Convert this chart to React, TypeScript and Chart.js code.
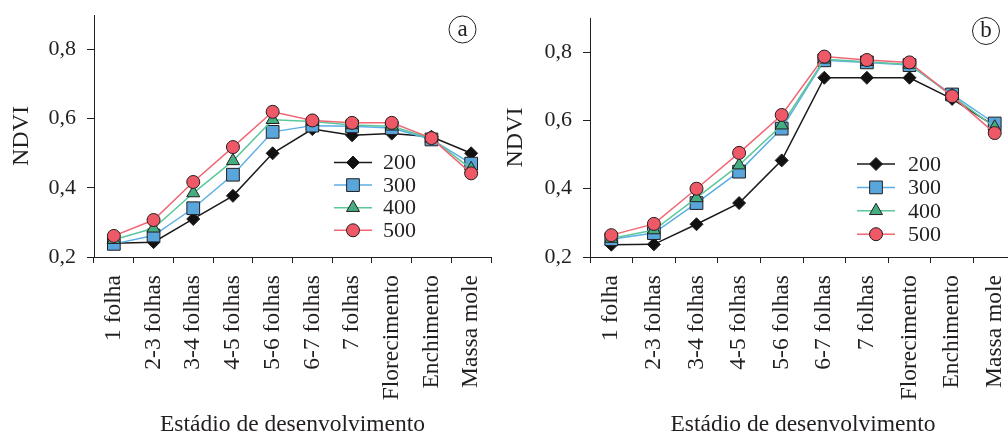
import React, { useEffect, useRef } from 'react';
import { Chart, registerables } from 'chart.js';

Chart.register(...registerables);

const stages = ['1 folha', '2-3 folhas', '3-4 folhas', '4-5 folhas', '5-6 folhas', '6-7 folhas', '7 folhas', 'Florecimento', 'Enchimento', 'Massa mole'];
const doses = ['200', '300', '400', '500'];
const yTicks = [0.2, 0.4, 0.6, 0.8];

const a200 = [0.240, 0.243, 0.310, 0.377, 0.500, 0.570, 0.552, 0.557, 0.548, 0.500];
const a300 = [0.238, 0.262, 0.341, 0.438, 0.562, 0.580, 0.578, 0.573, 0.540, 0.470];
const a400 = [0.250, 0.283, 0.385, 0.478, 0.597, 0.592, 0.582, 0.578, 0.543, 0.455];
const a500 = [0.261, 0.307, 0.417, 0.518, 0.620, 0.595, 0.588, 0.588, 0.544, 0.442];

const b200 = [0.236, 0.237, 0.296, 0.358, 0.483, 0.725, 0.725, 0.725, 0.663, 0.583];
const b300 = [0.252, 0.270, 0.358, 0.450, 0.576, 0.776, 0.770, 0.762, 0.676, 0.591];
const b400 = [0.254, 0.279, 0.373, 0.469, 0.586, 0.779, 0.772, 0.764, 0.672, 0.580];
const b500 = [0.264, 0.297, 0.400, 0.505, 0.616, 0.787, 0.777, 0.770, 0.671, 0.563];

const FONT = "'Liberation Serif', 'Times New Roman', serif";
const INK = '#231f20';

const seriesStyles = [
  { line: '#1a1a1a', fill: '#111111', style: 'rectRot', radius: 6.5 },
  { line: '#5aaee6', fill: '#58a6dc', style: 'rect', radius: 9 },
  { line: '#5cc79c', fill: '#45ad80', style: 'triangle', radius: 7.5 },
  { line: '#f06673', fill: '#ef5866', style: 'circle', radius: 6.5 },
];

function drawMarker(ctx: CanvasRenderingContext2D, style: string, x: number, y: number, r: number) {
  ctx.beginPath();
  if (style === 'rectRot') {
    ctx.moveTo(x, y - r);
    ctx.lineTo(x + r, y);
    ctx.lineTo(x, y + r);
    ctx.lineTo(x - r, y);
    ctx.closePath();
  } else if (style === 'rect') {
    const s = Math.SQRT1_2 * r;
    ctx.rect(x - s, y - s, 2 * s, 2 * s);
  } else if (style === 'triangle') {
    const c = Math.cos(Math.PI / 6) * r;
    ctx.moveTo(x, y - r);
    ctx.lineTo(x + c, y + r / 2);
    ctx.lineTo(x - c, y + r / 2);
    ctx.closePath();
  } else {
    ctx.arc(x, y, r, 0, Math.PI * 2);
  }
  ctx.fill();
  ctx.stroke();
}

const decorPlugin = {
  id: 'panelDecor',
  afterDraw(chart: any, _args: any, opts: any) {
    const ctx: CanvasRenderingContext2D = chart.ctx;
    ctx.save();
    doses.forEach((label, i) => {
      const st = seriesStyles[i];
      const y = opts.legendY + i * opts.rowGap;
      ctx.strokeStyle = st.line;
      ctx.lineWidth = 1.5;
      ctx.beginPath();
      ctx.moveTo(opts.legendX, y);
      ctx.lineTo(opts.legendX + opts.lineLen, y);
      ctx.stroke();
      ctx.fillStyle = st.fill;
      ctx.strokeStyle = INK;
      ctx.lineWidth = 1;
      drawMarker(ctx, st.style, opts.legendX + opts.lineLen / 2, y, st.radius);
      ctx.fillStyle = INK;
      ctx.font = `22px ${FONT}`;
      ctx.textAlign = 'left';
      ctx.textBaseline = 'middle';
      ctx.fillText(label, opts.textX, y + 1);
    });
    ctx.strokeStyle = INK;
    ctx.lineWidth = 1;
    ctx.beginPath();
    ctx.arc(opts.letterX, opts.letterY, 13.5, 0, Math.PI * 2);
    ctx.stroke();
    ctx.fillStyle = INK;
    ctx.font = `23px ${FONT}`;
    ctx.textAlign = 'center';
    ctx.textBaseline = 'middle';
    ctx.fillText(opts.letter, opts.letterX, opts.letterY);
    ctx.restore();
  },
};

function makeConfig(series: number[][], p: any) {
  return {
    type: 'line',
    data: {
      labels: stages,
      datasets: series.map((d, i) => ({
        label: doses[i],
        data: d,
        borderColor: seriesStyles[i].line,
        borderWidth: 1.5,
        backgroundColor: seriesStyles[i].fill,
        pointBackgroundColor: seriesStyles[i].fill,
        pointBorderColor: INK,
        pointBorderWidth: 1,
        pointStyle: seriesStyles[i].style,
        pointRadius: seriesStyles[i].radius,
        tension: 0,
        order: 4 - i,
        clip: false,
      })),
    },
    options: {
      responsive: false,
      animation: false,
      events: [],
      layout: { autoPadding: false, padding: { top: p.top, right: p.right, left: 0, bottom: 0 } },
      plugins: {
        legend: { display: false },
        tooltip: { enabled: false },
        panelDecor: p.decor,
      },
      scales: {
        x: {
          type: 'category',
          offset: true,
          grid: { display: true, drawOnChartArea: false, offset: true, tickLength: 6, color: INK, lineWidth: 1 },
          border: { display: true, color: INK, width: 1 },
          ticks: { autoSkip: false, maxRotation: 90, minRotation: 90, padding: 12, color: INK, font: { family: FONT, size: 23.5 } },
          title: { display: true, text: 'Estádio de desenvolvimento', color: INK, font: { family: FONT, size: 23.5 }, padding: { top: 0, bottom: 0 } },
          afterFit: (s: any) => {
            s.height = p.xHeight;
            s.paddingLeft = 0;
            s.paddingRight = 0;
          },
        },
        y: {
          type: 'linear',
          min: 0.2,
          max: 0.9,
          grid: { display: true, drawOnChartArea: false, tickLength: 7, color: INK, lineWidth: 1 },
          border: { display: true, color: INK, width: 1 },
          afterBuildTicks: (axis: any) => { axis.ticks = yTicks.map((v) => ({ value: v })); },
          ticks: {
            includeBounds: false,
            padding: 11,
            color: INK,
            font: { family: FONT, size: 22 },
            callback: (v: any) => Number(v).toFixed(1).replace('.', ','),
          },
          title: { display: true, text: 'NDVI', color: INK, font: { family: FONT, size: 24, lineHeight: 1.2 }, padding: { top: 7, bottom: 0 } },
          afterFit: (s: any) => {
            s.width = p.yWidth;
            s.paddingTop = 0;
            s.paddingBottom = 0;
          },
        },
      },
    },
    plugins: [decorPlugin],
  } as any;
}

function Panel(props: { series: number[][]; p: any; left: number; width: number }) {
  const ref = useRef<HTMLCanvasElement>(null);
  useEffect(() => {
    const chart = new Chart(ref.current as HTMLCanvasElement, makeConfig(props.series, props.p));
    return () => chart.destroy();
  }, []);
  return (
    <canvas
      ref={ref}
      width={props.width}
      height={439}
      style={{ position: 'absolute', left: props.left, top: 0, width: props.width, height: 439 }}
    />
  );
}

export default function App() {
  const pa = {
    top: 15, right: 13, yWidth: 94, xHeight: 182,
    decor: { legendX: 334, lineLen: 38, textX: 383, legendY: 162.5, rowGap: 22.6, letter: 'a', letterX: 462.5, letterY: 29.5 },
  };
  const pb = {
    top: 18, right: 14, yWidth: 96, xHeight: 182,
    decor: { legendX: 857 - 494, lineLen: 38, textX: 908 - 494, legendY: 164, rowGap: 23.4, letter: 'b', letterX: 986 - 494, letterY: 31 },
  };
  return (
    <div style={{ position: 'fixed', left: 0, top: 0, width: 1008, height: 439, overflow: 'hidden', background: '#fff' }}>
      <Panel series={[a200, a300, a400, a500]} p={pa} left={0} width={504} />
      <Panel series={[b200, b300, b400, b500]} p={pb} left={494} width={536} />
    </div>
  );
}
